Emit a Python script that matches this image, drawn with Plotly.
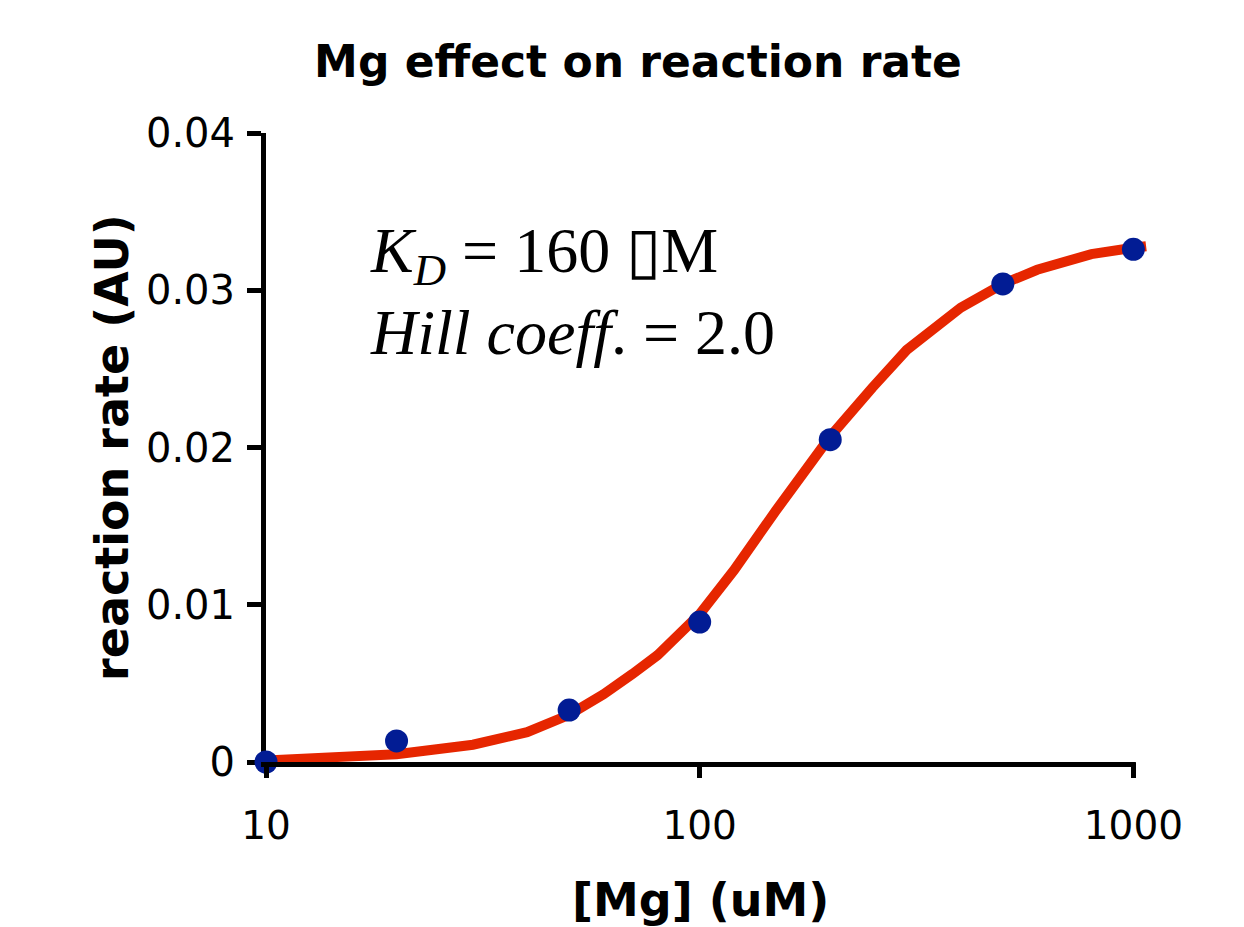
import math
import plotly.graph_objects as go

# measured data points
mg_conc = [10, 20, 50, 100, 200, 500, 1000]
rate = [0.0, 0.00134, 0.0033, 0.0089, 0.0205, 0.0304, 0.0326]

# fitted curve
curve_x = [10, 15, 20, 30, 40, 50, 60, 70, 80, 100, 120, 150, 200, 250, 300,
           400, 500, 600, 700, 800, 1000, 1070]
curve_y = [0.0001, 0.0003, 0.0005, 0.0011, 0.0019, 0.0030, 0.0043, 0.0056,
           0.0068, 0.0094, 0.0122, 0.0160, 0.0207, 0.0238, 0.0262, 0.0289,
           0.0304, 0.0313, 0.0319, 0.0323, 0.0327, 0.0328]

x_ticks = [10, 100, 1000]
x_tick_text = ["10", "100", "1000"]
y_ticks = [0, 0.01, 0.02, 0.03, 0.04]
y_tick_text = ["0", "0.01", "0.02", "0.03", "0.04"]

title_text = "Mg effect on reaction rate"
x_title = "[Mg] (uM)"
y_title = "reaction rate (AU)"
line1 = "<i>K<sub>D</sub></i> = 160 \u25afM"
line2 = "<i>Hill coeff</i>. = 2.0"

OFF = 8  # page body margin
W, H = 1244 - OFF, 927 - OFF
L, T = 266 - OFF, 133 - OFF
pw, ph = 881, 629
R, B = W - L - pw, H - T - ph

def px_x(p):
    return (p - OFF - L) / pw

def px_y(p):
    return (T + ph - (p - OFF)) / ph

x_range = [1, math.log10(1075)]

fig = go.Figure()
fig.add_trace(go.Scatter(x=curve_x, y=curve_y, mode="lines",
                         line=dict(color="#E62600", width=10),
                         hoverinfo="skip", showlegend=False))
fig.add_trace(go.Scatter(x=mg_conc, y=rate, mode="markers",
                         marker=dict(color="#021C94", size=23),
                         cliponaxis=False, showlegend=False))

sans = "DejaVu Sans, Verdana, sans-serif"
serif = "Liberation Serif, Times New Roman, serif"

def frac(v):
    return (math.log10(v) - x_range[0]) / (x_range[1] - x_range[0])

fig.update_layout(
    width=W, height=H,
    margin=dict(l=L, r=R, t=T, b=B, pad=0),
    paper_bgcolor="white", plot_bgcolor="rgba(0,0,0,0)",
    title=dict(text="<b>" + title_text + "</b>", x=(638 - OFF) / W, xref="container",
               xanchor="center", y=1 - (62 - OFF) / H, yref="container",
               yanchor="middle",
               font=dict(family=sans, size=44, color="black")),
    xaxis=dict(type="log", range=x_range,
               tickvals=x_ticks, ticktext=x_tick_text,
               ticks="outside", ticklen=15, tickwidth=5, tickcolor="black",
               showgrid=False, showline=False, zeroline=False,
               ticklabelstandoff=14,
               tickfont=dict(family=sans, size=39, color="black")),
    yaxis=dict(range=[0, 0.04], tickvals=y_ticks, ticktext=y_tick_text,
               ticks="outside", ticklen=14, tickwidth=5, tickcolor="black",
               showgrid=False, showline=True, linewidth=5, linecolor="black",
               zeroline=False, layer="below traces", ticklabelstandoff=4,
               tickfont=dict(family=sans, size=40, color="black")),
    shapes=[dict(type="line", xref="paper", yref="paper",
                 x0=frac(x_ticks[0]) - 5 / pw, x1=frac(x_ticks[-1]) + 2.5 / pw,
                 y0=-2.5 / ph, y1=-2.5 / ph,
                 line=dict(color="black", width=5), layer="above")],
    annotations=[
        dict(text="<b>" + x_title + "</b>", xref="paper", yref="paper",
             x=px_x(700), y=px_y(900), xanchor="center", yanchor="middle",
             showarrow=False, font=dict(family=sans, size=46, color="black")),
        dict(text="<b>" + y_title + "</b>", xref="paper", yref="paper",
             x=px_x(112), y=px_y(448), xanchor="center", yanchor="middle",
             textangle=-90, showarrow=False,
             font=dict(family=sans, size=46, color="black")),
        dict(text=line1, xref="paper", yref="paper", x=px_x(368), y=px_y(255),
             xanchor="left", yanchor="middle", showarrow=False,
             font=dict(family=serif, size=64, color="black")),
        dict(text=line2, xref="paper", yref="paper", x=px_x(368), y=px_y(332),
             xanchor="left", yanchor="middle", showarrow=False,
             font=dict(family=serif, size=64, color="black")),
    ],
)

fig.write_html("out.html")
